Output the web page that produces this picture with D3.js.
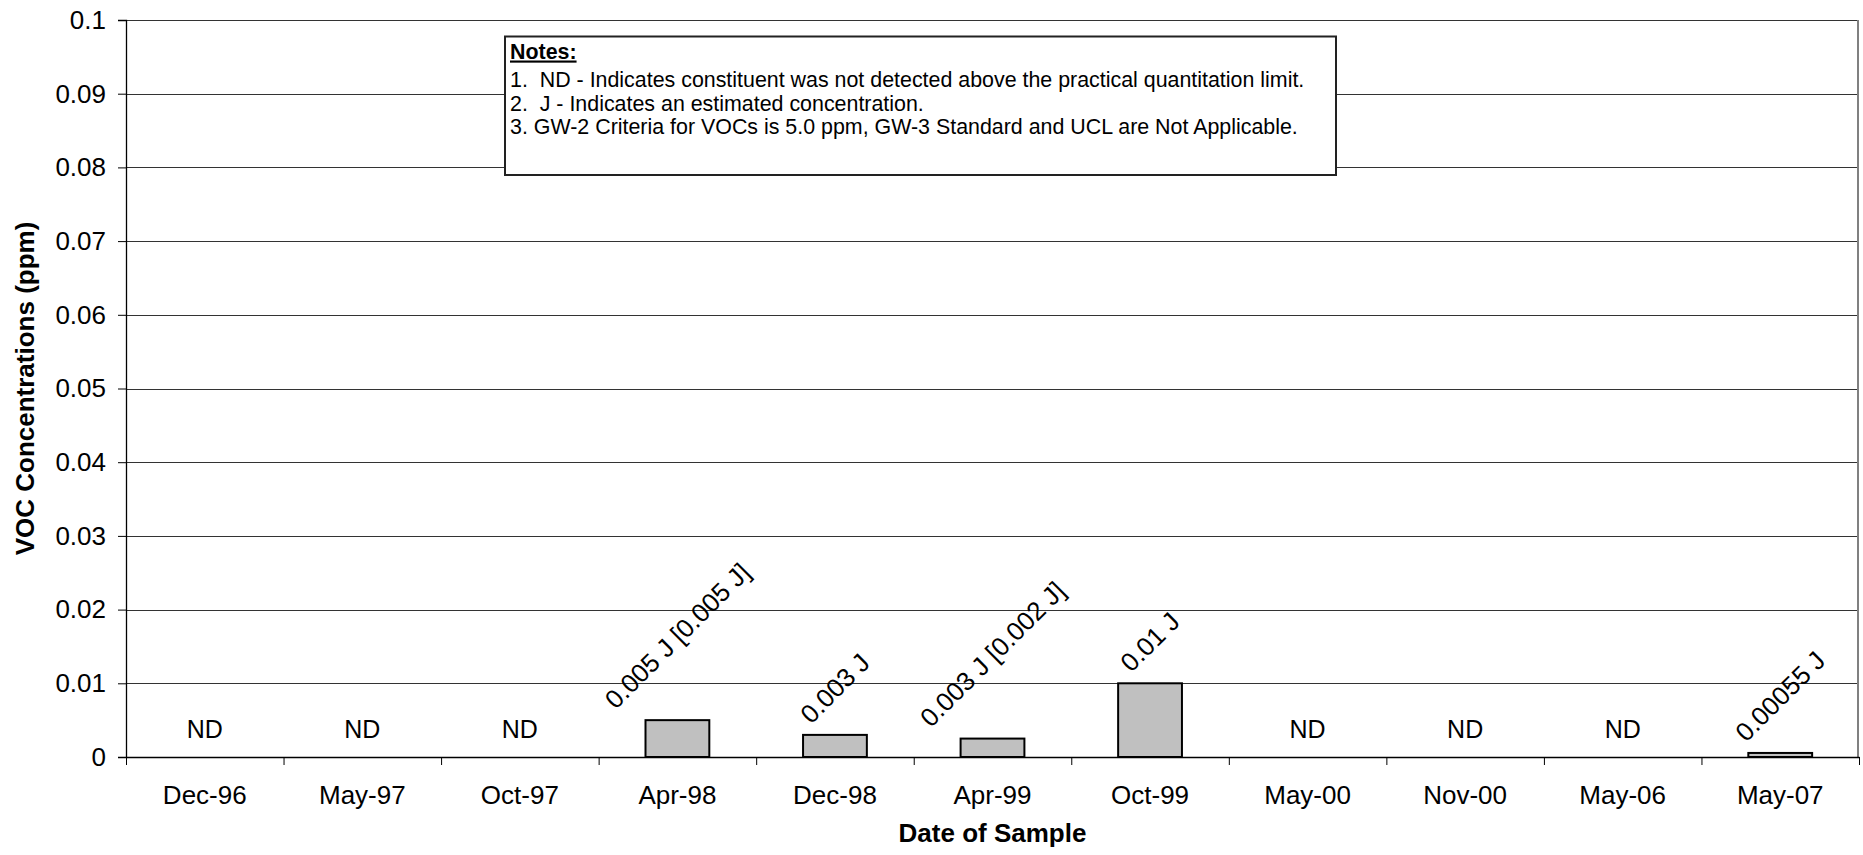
<!DOCTYPE html>
<html>
<head>
<meta charset="utf-8">
<script src="https://cdn.jsdelivr.net/npm/d3@7"></script>
<style>
  body { margin: 0; background: #fff; }
  svg { display: block; font-family: 'Liberation Sans', Arial, sans-serif; }
  .note { white-space: pre; }
</style>
</head>
<body>
<div id="chart"></div>
<script>
// sample dates and VOC results (ppm), 0 = not detected
const dates = ['Dec-96', 'May-97', 'Oct-97', 'Apr-98', 'Dec-98', 'Apr-99', 'Oct-99', 'May-00', 'Nov-00', 'May-06', 'May-07']
const values = [0, 0, 0, 0.005, 0.003, 0.0025, 0.01, 0, 0, 0, 0.00055]
const labels = ['ND', 'ND', 'ND', '0.005 J [0.005 J]', '0.003 J', '0.003 J [0.002 J]', '0.01 J', 'ND', 'ND', 'ND', '0.00055 J']
const yTicks = [0, 0.01, 0.02, 0.03, 0.04, 0.05, 0.06, 0.07, 0.08, 0.09, 0.1]
const notes = [
  '1.  ND - Indicates constituent was not detected above the practical quantitation limit.',
  '2.  J - Indicates an estimated concentration.',
  '3. GW-2 Criteria for VOCs is 5.0 ppm, GW-3 Standard and UCL are Not Applicable.'
]

const margin = { top: 20, left: 126, right: 4, bottom: 98 }
const width = 1863 - margin.left - margin.right
const height = 855 - margin.top - margin.bottom

const svg = d3
  .select('#chart')
  .append('svg')
  .attr('width', 1863)
  .attr('height', 855)

const g = svg
  .append('g')
  .attr('transform', 'translate(' + margin.left + ',' + margin.top + ')')

const y = d3.scaleLinear().domain([0, 0.1]).range([height, 0])

const xBand = d3
  .scaleBand()
  .domain(dates)
  .range([0, width])
  .padding(0)

const xEdge = d3
  .scaleLinear()
  .domain([0, dates.length])
  .range([0, width])

// gridlines
g.append('g')
  .selectAll('line')
  .data(yTicks)
  .enter()
  .append('line')
  .attr('x1', 0)
  .attr('x2', width)
  .attr('y1', d => Math.round(y(d)) + 0.5)
  .attr('y2', d => Math.round(y(d)) + 0.5)
  .attr('stroke', '#333')
  .attr('stroke-width', 1)

// right border of plot area
g.append('line')
  .attr('x1', width - 1)
  .attr('x2', width - 1)
  .attr('y1', 0)
  .attr('y2', height)
  .attr('stroke', '#808080')
  .attr('stroke-width', 2)

// y axis
const yAxis = g
  .append('g')
  .call(
    d3
      .axisLeft(y)
      .tickValues(yTicks)
      .tickSize(8)
      .tickPadding(12)
      .tickFormat(d => String(+d.toFixed(2)))
  )
yAxis.select('.domain').attr('stroke', '#000').attr('stroke-width', 1.3)
yAxis.selectAll('.tick line').attr('stroke', '#000')
yAxis
  .selectAll('.tick text')
  .attr('font-size', 26)
  .attr('font-family', "'Liberation Sans', Arial, sans-serif")
  .attr('fill', '#000')

// x axis: ticks at category boundaries
const xAxis = g
  .append('g')
  .attr('transform', 'translate(0,' + height + ')')
  .call(
    d3
      .axisBottom(xEdge)
      .tickValues(d3.range(dates.length + 1))
      .tickSize(8)
      .tickSizeOuter(0)
      .tickFormat('')
  )
xAxis.select('.domain').attr('stroke', '#000').attr('stroke-width', 1.5)
xAxis.selectAll('.tick line').attr('stroke', '#000')

g.append('g')
  .attr('transform', 'translate(0,' + height + ')')
  .call(d3.axisBottom(xBand).tickSize(0).tickPadding(0))
  .call(a => a.select('.domain').remove())
  .selectAll('text')
  .attr('y', 47)
  .attr('dy', 0)
  .attr('font-size', 26)
  .attr('font-family', "'Liberation Sans', Arial, sans-serif")
  .attr('fill', '#000')

// bars
const barW = xBand.bandwidth() * 0.405

g.append('g')
  .selectAll('rect')
  .data(values.map((v, i) => ({ date: dates[i], value: v })).filter(d => d.value > 0))
  .enter()
  .append('rect')
  .attr('x', d => xBand(d.date) + xBand.bandwidth() / 2 - barW / 2)
  .attr('y', d => y(d.value))
  .attr('width', barW)
  .attr('height', d => height - y(d.value))
  .attr('fill', '#c0c0c0')
  .attr('stroke', '#000')
  .attr('stroke-width', 2)

// data labels
const rows = dates.map((d, i) => ({ date: d, value: values[i], label: labels[i] }))

g.append('g')
  .selectAll('text.nd')
  .data(rows.filter(d => d.label === 'ND'))
  .enter()
  .append('text')
  .attr('class', 'nd')
  .attr('x', d => xBand(d.date) + xBand.bandwidth() / 2)
  .attr('y', d => y(d.value) - 19)
  .attr('text-anchor', 'middle')
  .attr('font-size', 25)
  .text(d => d.label)

const fs = 26
g.append('g')
  .selectAll('text.val')
  .data(rows.filter(d => d.label !== 'ND'))
  .enter()
  .append('text')
  .attr('class', 'val')
  .attr('text-anchor', 'middle')
  .attr('dominant-baseline', 'central')
  .attr('font-size', fs)
  .text(d => d.label)
  .each(function(d) {
    // centre the rotated label just above the bar top
    const L = this.getComputedTextLength()
    const cx = xBand(d.date) + xBand.bandwidth() / 2
    const cy = y(d.value) - 9 - (L + fs * 0.8) * Math.SQRT1_2 / 2
    d3.select(this).attr('transform', 'translate(' + cx + ',' + cy + ') rotate(-45)')
  })

// axis titles
svg
  .append('text')
  .attr('transform', 'translate(25,' + (margin.top + height / 2) + ') rotate(-90)')
  .attr('text-anchor', 'middle')
  .attr('dominant-baseline', 'central')
  .attr('font-size', 26)
  .attr('font-weight', 'bold')
  .text('VOC Concentrations (ppm)')

svg
  .append('text')
  .attr('x', margin.left + width / 2)
  .attr('y', 842)
  .attr('text-anchor', 'middle')
  .attr('font-size', 26)
  .attr('font-weight', 'bold')
  .text('Date of Sample')

// notes box
const notesG = svg.append('g').attr('transform', 'translate(505,36.5)')
notesG
  .append('rect')
  .attr('width', 831)
  .attr('height', 138.5)
  .attr('fill', '#fff')
  .attr('stroke', '#222')
  .attr('stroke-width', 2)

notesG
  .append('text')
  .attr('x', 5)
  .attr('y', 22)
  .attr('font-size', 21.4)
  .attr('font-weight', 'bold')
  .attr('text-decoration', 'underline')
  .text('Notes:')

notesG
  .selectAll('text.note')
  .data(notes)
  .enter()
  .append('text')
  .attr('class', 'note')
  .attr('x', 5)
  .attr('y', (d, i) => 50.5 + i * 23.7)
  .attr('font-size', 21.4)
  .text(d => d)
</script>
</body>
</html>
